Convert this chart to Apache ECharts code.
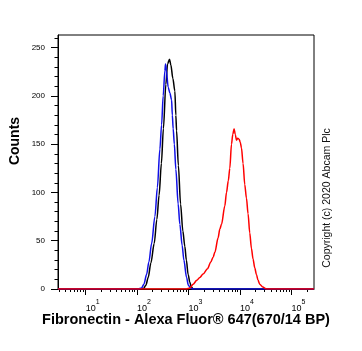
<!DOCTYPE html>
<html>
<head>
<meta charset="utf-8">
<style>
html, body { margin: 0; padding: 0; background: #fff; }
#chart { width: 362px; height: 351px; }
</style>
<script src="https://cdn.jsdelivr.net/npm/echarts@6/dist/echarts.min.js"></script>
</head>
<body>
<div id="chart"></div>
<script>
// x values are log10 of the fluorescence intensity
const blackLog = [0.462, 2.118, 2.171, 2.216, 2.268, 2.332, 2.384, 2.427, 2.472, 2.511, 2.559, 2.592, 2.631, 2.656, 2.695, 2.734, 2.753, 2.767, 2.802, 2.845, 2.889, 2.928, 2.957, 2.992, 3.025, 3.054, 3.089, 5.439]
const blackCounts = [0, 0, 4, 12, 27, 47, 72, 97, 130, 166, 212, 233, 238, 232, 218, 205, 180, 164, 128, 88, 60, 44, 30, 15, 7, 2, 0, 0]

const blueLog = [0.462, 2.021, 2.087, 2.132, 2.184, 2.229, 2.282, 2.346, 2.394, 2.443, 2.476, 2.507, 2.540, 2.553, 2.569, 2.604, 2.637, 2.670, 2.685, 2.701, 2.724, 2.753, 2.798, 2.831, 2.876, 2.909, 2.961, 2.996, 3.039, 3.083, 5.439]
const blueCounts = [0, 0, 1, 5, 15, 28, 47, 75, 105, 145, 170, 200, 226, 233, 226, 209, 203, 196, 180, 166, 150, 124, 88, 67, 45, 30, 12, 4, 1, 0, 0]

const redLog = [0.462, 2.961, 3.025, 3.089, 3.161, 3.219, 3.283, 3.369, 3.433, 3.478, 3.511, 3.575, 3.608, 3.641, 3.705, 3.738, 3.773, 3.802, 3.835, 3.860, 3.885, 3.909, 3.932, 3.957, 3.983, 4.006, 4.029, 4.060, 4.093, 4.126, 4.157, 4.190, 4.223, 4.254, 4.287, 4.320, 4.351, 4.384, 4.443, 4.515, 5.439]
const redCounts = [0, 0, 1, 5, 9, 12, 15.5, 21, 28, 33, 38, 53, 62, 67, 86, 100, 112, 125, 150, 160, 166, 160, 154, 156, 155, 152, 146, 130, 108, 94, 78, 58, 42, 31, 22, 15, 9, 5, 2, 0, 0]

const decades = [1, 2, 3, 4, 5]
const decadeMinor = [0.477, 0.602, 0.699, 0.778, 0.845, 0.903, 0.954, 1.301, 1.477, 1.602, 1.699, 1.778, 1.845, 1.903, 1.954, 2.301, 2.477, 2.602, 2.699, 2.778, 2.845, 2.903, 2.954, 3.301, 3.477, 3.602, 3.699, 3.778, 3.845, 3.903, 3.954, 4.301, 4.477, 4.602, 4.699, 4.778, 4.845, 4.903, 4.954, 5.301]
const countTicks = [0, 50, 100, 150, 200, 250]
const countMinor = [10, 20, 30, 40, 60, 70, 80, 90, 110, 120, 130, 140, 160, 170, 180, 190, 210, 220, 230, 240, 260]

const FONT = '"Liberation Sans", Arial, sans-serif'

function pairs (xs, ys) {
  const out = []
  for (let i = 0; i < xs.length; i++) out.push([xs[i], ys[i]])
  return out
}

function curve (name, color, xs, ys) {
  return {
    name: name,
    type: 'line',
    xAxisIndex: 0,
    yAxisIndex: 0,
    showSymbol: false,
    smooth: 0.3,
    smoothMonotone: 'x',
    lineStyle: { color: color, width: 1.5 },
    itemStyle: { color: color },
    data: pairs(xs, ys)
  }
}

const axisRange = { xMin: 0.462, xMax: 5.439, yMin: 0, yMax: 263 }

const myChart = echarts.init(document.getElementById('chart'))
myChart.setOption({
  animation: false,
  grid: { left: 58, right: 48, top: 35, bottom: 62, show: true, borderColor: '#000', borderWidth: 1 },
  xAxis: [
    {
      type: 'value',
      min: axisRange.xMin,
      max: axisRange.xMax,
      position: 'bottom',
      axisLine: { onZero: false, lineStyle: { color: '#000', width: 1 } },
      splitLine: { show: false },
      axisTick: { customValues: decades, length: 6, lineStyle: { color: '#000' } },
      axisLabel: {
        customValues: decades,
        margin: 10,
        align: 'left',
        formatter: v => '{a|10}{b|' + Math.round(v) + '}',
        rich: {
          a: { fontFamily: FONT, fontSize: 9, color: '#000', lineHeight: 14, verticalAlign: 'bottom' },
          b: { fontFamily: FONT, fontSize: 7, color: '#000', lineHeight: 7, verticalAlign: 'top' }
        }
      }
    },
    {
      type: 'value',
      min: axisRange.xMin,
      max: axisRange.xMax,
      position: 'bottom',
      axisLine: { show: false, onZero: false },
      splitLine: { show: false },
      axisTick: { customValues: decadeMinor, length: 3, lineStyle: { color: '#000' } },
      axisLabel: { show: false }
    }
  ],
  yAxis: [
    {
      type: 'value',
      min: axisRange.yMin,
      max: axisRange.yMax,
      position: 'left',
      axisLine: { show: true, onZero: false, lineStyle: { color: '#000', width: 1 } },
      splitLine: { show: false },
      axisTick: { customValues: countTicks, length: 7, lineStyle: { color: '#000' } },
      axisLabel: { customValues: countTicks, margin: 13, fontFamily: FONT, fontSize: 8, color: '#000' }
    },
    {
      type: 'value',
      min: axisRange.yMin,
      max: axisRange.yMax,
      position: 'left',
      axisLine: { show: false, onZero: false },
      splitLine: { show: false },
      axisTick: { customValues: countMinor, length: 3.5, lineStyle: { color: '#000' } },
      axisLabel: { show: false }
    }
  ],
  graphic: [
    {
      type: 'text',
      x: 15,
      y: 141,
      rotation: Math.PI / 2,
      style: { text: 'Counts', font: 'bold 14px ' + FONT, fill: '#000', align: 'center', verticalAlign: 'middle' }
    },
    {
      type: 'text',
      x: 186,
      y: 320,
      style: { text: 'Fibronectin - Alexa Fluor® 647(670/14 BP)', font: 'bold 14.5px ' + FONT, fill: '#000', align: 'center', verticalAlign: 'middle' }
    },
    {
      type: 'text',
      x: 327,
      y: 198,
      rotation: Math.PI / 2,
      style: { text: 'Copyright (c) 2020 Abcam Plc', font: '10.5px ' + FONT, fill: '#111', align: 'center', verticalAlign: 'middle' }
    }
  ],
  series: [
    curve('black', '#000000', blackLog, blackCounts),
    curve('blue', '#1010e6', blueLog, blueCounts),
    curve('red', '#ff0000', redLog, redCounts)
  ]
})
</script>
</body>
</html>
